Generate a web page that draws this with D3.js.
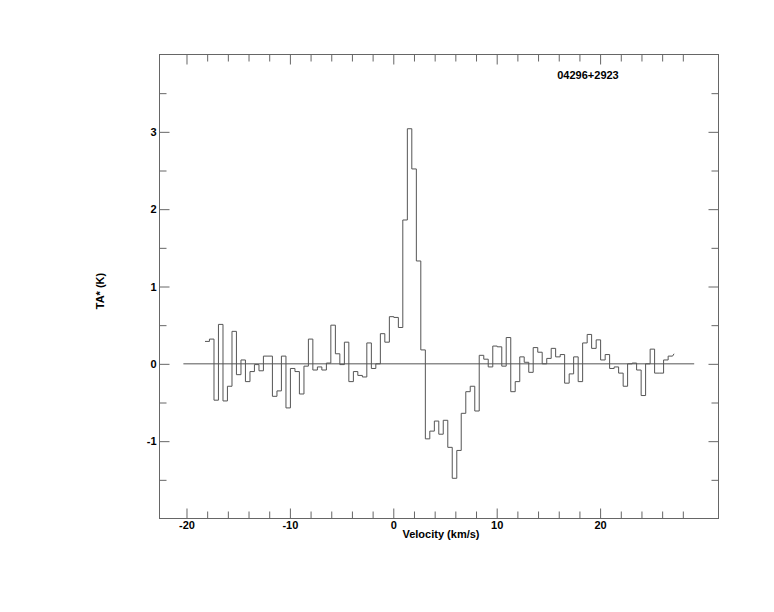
<!DOCTYPE html>
<html>
<head>
<meta charset="utf-8">
<script src="https://cdn.jsdelivr.net/npm/d3@7"></script>
<style>
  html, body { margin: 0; padding: 0; background: #fff; }
  svg { display: block; }
  text { font-family: "Liberation Sans", Arial, Helvetica, sans-serif; font-weight: bold; fill: #000; }
</style>
</head>
<body>
<svg id="chart" width="774" height="612"></svg>
<script>
// ---- data ----
const title = "04296+2923";
const xLabel = "Velocity (km/s)";
const yLabel = "TA* (K)";

// left edge velocity of each channel (km/s); last entry is the right edge of the final channel
const velocity = [
  -18.21, -17.78, -17.34, -16.91, -16.47, -16.04, -15.60, -15.17, -14.73, -14.30,
  -13.86, -13.43, -12.99, -12.56, -12.12, -11.69, -11.25, -10.82, -10.38, -9.95,
  -9.51, -9.08, -8.64, -8.21, -7.78, -7.34, -6.91, -6.47, -6.04, -5.60,
  -5.17, -4.73, -4.30, -3.86, -3.43, -2.99, -2.56, -2.12, -1.69, -1.25,
  -0.82, -0.38, 0.05, 0.49, 0.92, 1.36, 1.79, 2.23, 2.66, 3.10,
  3.53, 3.97, 4.40, 4.83, 5.27, 5.70, 6.14, 6.57, 7.01, 7.44,
  7.88, 8.31, 8.75, 9.18, 9.62, 10.05, 10.49, 10.92, 11.36, 11.79,
  12.23, 12.66, 13.10, 13.53, 13.97, 14.40, 14.84, 15.27, 15.70, 16.14,
  16.57, 17.01, 17.44, 17.88, 18.31, 18.75, 19.18, 19.62, 20.05, 20.49,
  20.92, 21.36, 21.79, 22.23, 22.66, 23.10, 23.53, 23.97, 24.40, 24.84,
  25.27, 25.71, 26.14, 26.58, 27.01
];

// antenna temperature of each channel (K)
const ta = [
  0.29, 0.32, -0.47, 0.51, -0.48, -0.29, 0.42, -0.14, 0.05, -0.23,
  -0.10, -0.01, -0.09, 0.10, 0.10, -0.42, -0.35, 0.10, -0.57, -0.06,
  -0.10, -0.39, -0.03, 0.32, -0.08, -0.04, -0.08, 0.01, 0.50, 0.13,
  -0.01, 0.28, -0.23, -0.10, -0.15, -0.17, 0.27, -0.06, 0.00, 0.39,
  0.28, 0.61, 0.60, 0.47, 1.86, 3.04, 2.52, 1.33, 0.18, -0.97,
  -0.87, -0.74, -0.91, -0.73, -1.08, -1.48, -1.12, -0.64, -0.36, -0.29,
  -0.61, 0.11, 0.06, -0.04, 0.23, 0.22, -0.03, 0.34, -0.36, -0.23,
  0.09, 0.02, -0.11, 0.21, 0.15, 0.00, 0.07, 0.20, 0.09, 0.12,
  -0.25, -0.13, 0.09, -0.23, 0.27, 0.38, 0.20, 0.31, 0.05, 0.12,
  -0.06, -0.04, -0.12, -0.29, 0.00, 0.01, -0.08, -0.41, 0.00, 0.19,
  -0.12, -0.12, 0.05, 0.10
];

// short sloping tail drawn after the last channel
const tail = [[27.01, 0.10], [27.15, 0.13]];

const baselineRange = [-20.3, 29.1];
const xMajorTicks = [-20, -10, 0, 10, 20];
const xMinorTicks = [-18, -16, -14, -12, -8, -6, -4, -2, 2, 4, 6, 8, 12, 14, 16, 18, 22, 24, 26, 28];
const yMajorTicks = [-1, 0, 1, 2, 3];
const yMinorTicks = [-1.5, -0.5, 0.5, 1.5, 2.5, 3.5];

// ---- layout ----
const svg = d3.select("#chart");
const pLeft = 159.5, pRight = 718.5, pTop = 54.5, pBottom = 518.5;
const x = d3.scaleLinear().domain([-22.61, 31.45]).range([pLeft, pRight]);
const y = d3.scaleLinear().domain([-2, 4]).range([pBottom, pTop]);
const lineColor = "#555";
const frameColor = "#666";
const fmt = d => String(d);   // plain hyphen-minus like the reference

// frame
svg.append("rect")
  .attr("x", pLeft).attr("y", pTop)
  .attr("width", pRight - pLeft).attr("height", pBottom - pTop)
  .attr("fill", "none").attr("stroke", frameColor).attr("stroke-width", 1);

function styleAxis(g) {
  g.select(".domain").remove();
  g.selectAll(".tick line").attr("stroke", frameColor).attr("stroke-width", 1);
  g.selectAll("text").attr("font-size", 11).attr("font-family", "Liberation Sans, Arial, sans-serif").attr("font-weight", "bold").attr("fill", "#000");
}

// bottom axis
svg.append("g").attr("transform", `translate(0,${pBottom})`)
  .call(d3.axisBottom(x).tickValues(xMajorTicks).tickSize(-10).tickPadding(3).tickFormat(fmt))
  .call(styleAxis);
svg.append("g").attr("transform", `translate(0,${pBottom})`)
  .call(d3.axisBottom(x).tickValues(xMinorTicks).tickSize(-7).tickFormat(""))
  .call(styleAxis);
// top axis
svg.append("g").attr("transform", `translate(0,${pTop})`)
  .call(d3.axisTop(x).tickValues(xMajorTicks).tickSize(-10).tickFormat(""))
  .call(styleAxis);
svg.append("g").attr("transform", `translate(0,${pTop})`)
  .call(d3.axisTop(x).tickValues(xMinorTicks).tickSize(-7).tickFormat(""))
  .call(styleAxis);
// left axis
svg.append("g").attr("transform", `translate(${pLeft},0)`)
  .call(d3.axisLeft(y).tickValues(yMajorTicks).tickSize(-10).tickPadding(3).tickFormat(fmt))
  .call(styleAxis);
svg.append("g").attr("transform", `translate(${pLeft},0)`)
  .call(d3.axisLeft(y).tickValues(yMinorTicks).tickSize(-7).tickFormat(""))
  .call(styleAxis);
// right axis
svg.append("g").attr("transform", `translate(${pRight},0)`)
  .call(d3.axisRight(y).tickValues(yMajorTicks).tickSize(-10).tickFormat(""))
  .call(styleAxis);
svg.append("g").attr("transform", `translate(${pRight},0)`)
  .call(d3.axisRight(y).tickValues(yMinorTicks).tickSize(-7).tickFormat(""))
  .call(styleAxis);

// zero baseline
svg.append("line")
  .attr("x1", x(baselineRange[0])).attr("x2", x(baselineRange[1]))
  .attr("y1", y(0)).attr("y2", y(0))
  .attr("stroke", lineColor).attr("stroke-width", 1);

// spectrum histogram
const pts = ta.map((v, i) => [velocity[i], v]);
pts.push([velocity[velocity.length - 1], ta[ta.length - 1]]);
const stepLine = d3.line().x(d => x(d[0])).y(d => y(d[1])).curve(d3.curveStepAfter);
svg.append("path")
  .attr("d", stepLine(pts))
  .attr("fill", "none").attr("stroke", lineColor).attr("stroke-width", 1);
svg.append("path")
  .attr("d", d3.line().x(d => x(d[0])).y(d => y(d[1]))(tail))
  .attr("fill", "none").attr("stroke", lineColor).attr("stroke-width", 1);

// labels
svg.append("text")
  .attr("x", 441).attr("y", 538)
  .attr("text-anchor", "middle").attr("font-size", 11)
  .text(xLabel);
svg.append("text")
  .attr("transform", "translate(104,291) rotate(-90)")
  .attr("text-anchor", "middle").attr("font-size", 11)
  .text(yLabel);
svg.append("text")
  .attr("x", 588).attr("y", 79)
  .attr("text-anchor", "middle").attr("font-size", 11)
  .text(title);
</script>
</body>
</html>
